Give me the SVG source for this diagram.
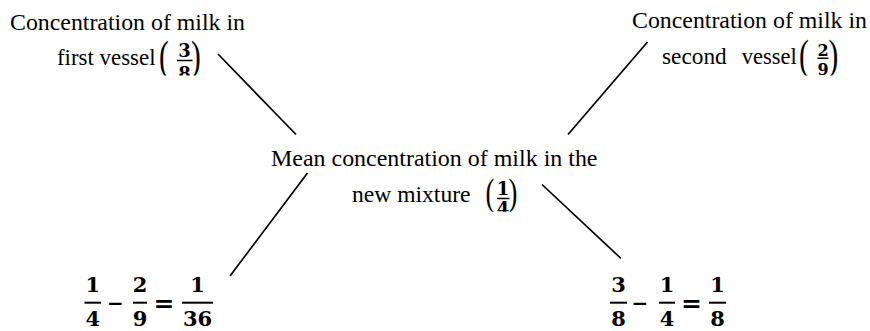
<svg xmlns="http://www.w3.org/2000/svg" width="870" height="331" viewBox="0 0 870 331">
<style>
.t{font-family:"Liberation Serif","Times New Roman",serif;font-size:24px;fill:#000}
.p{font-family:"Liberation Serif","Times New Roman",serif;fill:#000;text-anchor:middle}
.m{font-family:"DejaVu Serif",serif;font-weight:bold;fill:#000;text-anchor:middle}
.s{font-size:18px}
.b{font-size:21px}
.bar{stroke:#000;stroke-width:1.6}
.bbar{stroke:#000;stroke-width:2}
.c{stroke:#000;stroke-width:1.7;fill:none}
</style>
<defs>
<clipPath id="clipTop"><rect x="0" y="0" width="870" height="75.5"/></clipPath>
<clipPath id="clipMid"><rect x="0" y="170" width="870" height="41.8"/></clipPath>
</defs>
<rect width="870" height="331" fill="#fff"/>
<g id="connectors">
<line class="c" x1="218" y1="54" x2="296" y2="134.5"/>
<line class="c" x1="647.5" y1="42" x2="568" y2="134.5"/>
<line class="c" x1="307.5" y1="173" x2="230" y2="276"/>
<line class="c" x1="542" y1="184.5" x2="621" y2="258.5"/>
</g>
<g id="node-first">
<text class="t" x="10" y="30" textLength="235" lengthAdjust="spacingAndGlyphs">Concentration of milk in</text>
<text class="t" x="57" y="64.5" textLength="98.5" lengthAdjust="spacingAndGlyphs">first vessel</text>
<g clip-path="url(#clipTop)">
<text class="p" transform="translate(164,69.5) scale(0.7,1)" font-size="42">(</text>
<text class="m s" x="184.5" y="57">3</text>
<line class="bar" x1="177" y1="60.5" x2="192.5" y2="60.5"/>
<text class="m s" x="184.5" y="80">8</text>
<text class="p" transform="translate(196,69.5) scale(0.7,1)" font-size="42">)</text>
</g>
</g>
<g id="node-second">
<text class="t" x="632" y="27.5" textLength="235" lengthAdjust="spacingAndGlyphs">Concentration of milk in</text>
<text class="t" x="662" y="63.5" textLength="64.7" lengthAdjust="spacingAndGlyphs">second</text>
<text class="t" x="741.7" y="63.5" textLength="55" lengthAdjust="spacingAndGlyphs">vessel</text>
<g clip-path="url(#clipTop)">
<text class="p" transform="translate(804,68.5) scale(0.7,1)" font-size="42">(</text>
<text class="m" x="823" y="55.5" font-size="16">2</text>
<line class="bar" x1="817.5" y1="58.2" x2="828.5" y2="58.2"/>
<text class="m" x="823" y="75" font-size="16">9</text>
<text class="p" transform="translate(833.5,68.5) scale(0.7,1)" font-size="42">)</text>
</g>
</g>
<g id="node-mean">
<text class="t" x="271" y="166" textLength="326.5" lengthAdjust="spacingAndGlyphs">Mean concentration of milk in the</text>
<text class="t" x="352" y="202" textLength="118.5" lengthAdjust="spacingAndGlyphs">new mixture</text>
<g clip-path="url(#clipMid)">
<text class="p" transform="translate(490,205) scale(0.7,1)" font-size="38">(</text>
<text class="m s" x="503" y="195">1</text>
<line class="bar" x1="497" y1="198.5" x2="509.5" y2="198.5"/>
<text class="m s" x="503" y="214.5">4</text>
<text class="p" transform="translate(513,205) scale(0.7,1)" font-size="38">)</text>
</g>
</g>
<g id="node-eq-left">
<text class="m b" x="92.7" y="292">1</text>
<line class="bbar" x1="84.5" y1="302.7" x2="101" y2="302.7"/>
<text class="m b" x="92.7" y="326">4</text>
<text class="m" x="115.5" y="309.5" font-size="20">−</text>
<text class="m b" x="140" y="292">2</text>
<line class="bbar" x1="133" y1="302.7" x2="147" y2="302.7"/>
<text class="m b" x="140" y="326">9</text>
<text class="m" x="164" y="312.4" font-size="25">=</text>
<text class="m b" x="197.5" y="292">1</text>
<line class="bbar" x1="182" y1="302.7" x2="213" y2="302.7"/>
<text class="m b" x="197.5" y="326">36</text>
</g>
<g id="node-eq-right">
<text class="m b" x="618.5" y="292">3</text>
<line class="bbar" x1="610" y1="302.7" x2="627" y2="302.7"/>
<text class="m b" x="618.5" y="326">8</text>
<text class="m" x="640" y="309.5" font-size="20">−</text>
<text class="m b" x="667" y="292">1</text>
<line class="bbar" x1="659" y1="302.7" x2="675" y2="302.7"/>
<text class="m b" x="667" y="326">4</text>
<text class="m" x="691.5" y="312.4" font-size="25">=</text>
<text class="m b" x="717.5" y="292">1</text>
<line class="bbar" x1="709" y1="302.7" x2="726" y2="302.7"/>
<text class="m b" x="717.5" y="326">8</text>
</g>
</svg>
